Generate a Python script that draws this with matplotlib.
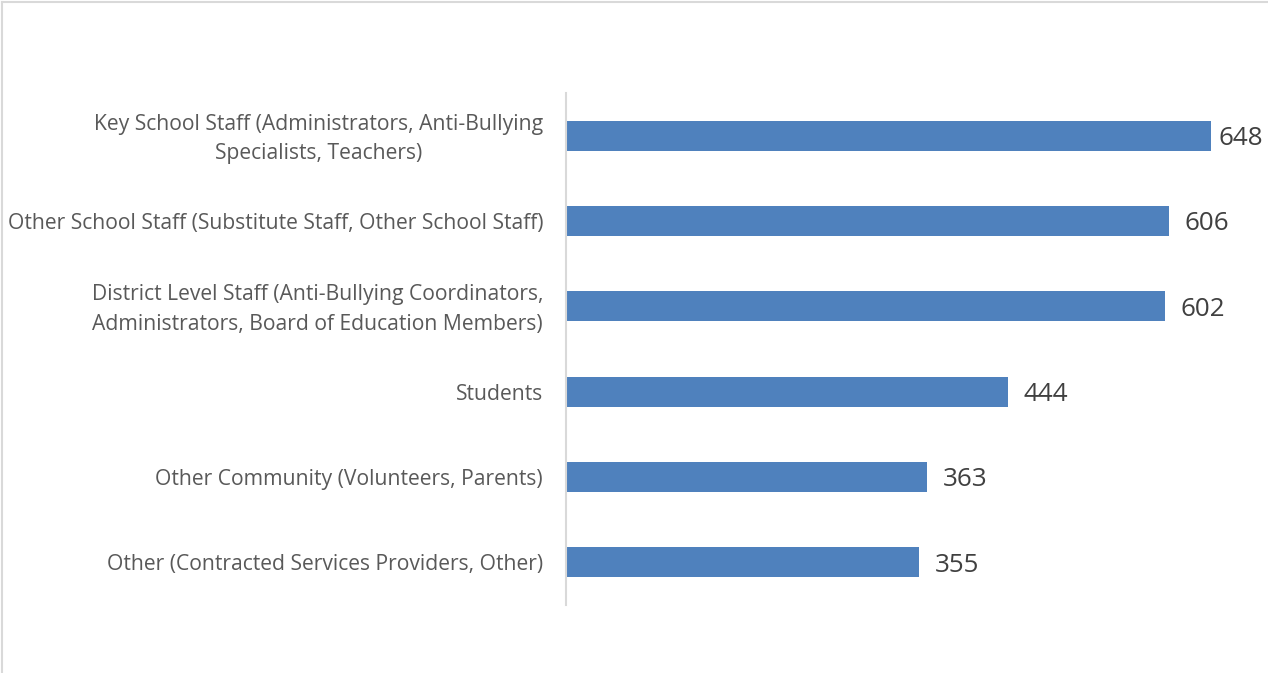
import matplotlib
matplotlib.use("Agg")
import matplotlib.pyplot as plt
import matplotlib.transforms as mtransforms
from matplotlib.lines import Line2D

categories = [
    "Key School Staff (Administrators, Anti-Bullying\nSpecialists, Teachers)",
    "Other School Staff (Substitute Staff, Other School Staff)",
    "District Level Staff (Anti-Bullying Coordinators,\nAdministrators, Board of Education Members)",
    "Students",
    "Other Community (Volunteers, Parents)",
    "Other (Contracted Services Providers, Other)",
]
values = [648, 606, 602, 444, 363, 355]

W, H = 1268, 673
fig = plt.figure(figsize=(W / 100, H / 100), dpi=100)
fig.patch.set_facecolor("white")

# chart frame (top and left edges)
fig.add_artist(Line2D([2 / W, 1], [1 - 2 / H, 1 - 2 / H], transform=fig.transFigure,
                      color="#d9d9d9", lw=1.5))
fig.add_artist(Line2D([2 / W, 2 / W], [0, 1 - 2 / H], transform=fig.transFigure,
                      color="#d9d9d9", lw=1.5))

XMAX = 700
ax = fig.add_axes([566 / W, 1 - 605 / H, 697 / W, 512 / H])
ypos = list(range(len(categories)))
ax.barh(ypos, values, height=0.35, color="#4f81bd")
ax.set_xlim(0, XMAX)
ax.set_ylim(len(categories) - 0.5, -0.5)

ax.set_yticks(ypos)
ax.set_yticklabels(categories, fontsize=15.2, color="#595959", family="Open Sans",
                   multialignment="center", linespacing=1.55)
ax.tick_params(axis="y", length=0, pad=16.5)
ax.set_xticks([])

# centre two-line labels on their bars
shift_up = mtransforms.ScaledTranslation(0, 3.5 / 100, fig.dpi_scale_trans)
for lbl in ax.get_yticklabels():
    if "\n" in lbl.get_text():
        lbl.set_transform(lbl.get_transform() + shift_up)

for s in ["top", "right", "bottom"]:
    ax.spines[s].set_visible(False)
ax.spines["left"].set_color("#d9d9d9")
ax.spines["left"].set_linewidth(1.5)

# value labels sit after the bar end, kept inside the plot area
for y, v in zip(ypos, values):
    x = min(v + 15, XMAX - 45)
    ax.text(x, y + 0.035, str(v), va="center", ha="left", fontsize=18.7,
            color="#404040", family="Open Sans")

fig.savefig("out.png", dpi=100)
